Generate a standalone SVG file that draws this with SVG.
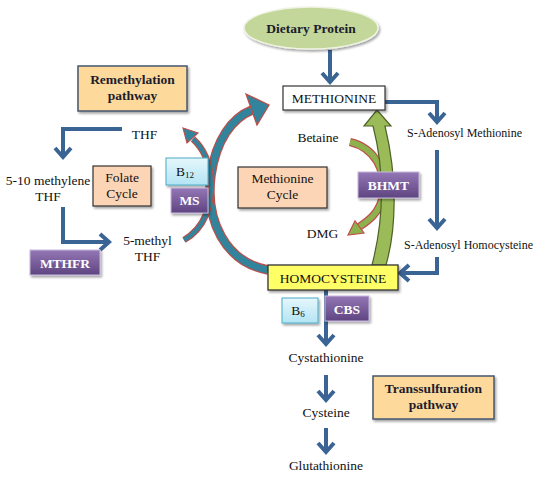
<svg xmlns="http://www.w3.org/2000/svg" width="539" height="477" viewBox="0 0 539 477">
<defs>
<style>
text{font-family:"Liberation Serif","Times New Roman",serif;fill:#111;}
.t{font-size:13.5px;}
.s{font-size:12px;}
.b{font-size:13.5px;font-weight:bold;fill:#1c1c2c;}
.w{font-size:13.5px;font-weight:bold;fill:#fff;}
.conn{fill:none;stroke:#3a6494;stroke-width:4;}
.purple{fill:url(#pg);stroke:#c7b8dc;stroke-width:1;}
.cyan{fill:url(#cg);stroke:#4bacc6;stroke-width:1;}
.peach{fill:#fbd5b5;stroke:#333;stroke-width:1.2;}
.pathbox{fill:#fdd99b;stroke:#46566e;stroke-width:1.5;}
</style>
<linearGradient id="pg" x1="0" y1="0" x2="0" y2="1">
<stop offset="0" stop-color="#9477b6"/>
<stop offset="1" stop-color="#5e4580"/>
</linearGradient>
<linearGradient id="cg" x1="0" y1="0" x2="0" y2="1">
<stop offset="0" stop-color="#e6f7fc"/>
<stop offset="1" stop-color="#b3e4f3"/>
</linearGradient>
<filter id="sh" x="-20%" y="-20%" width="140%" height="150%">
<feDropShadow dx="1.5" dy="2" stdDeviation="1" flood-color="#000" flood-opacity="0.35"/>
</filter>
<marker id="ah" markerUnits="userSpaceOnUse" markerWidth="22" markerHeight="22" viewBox="0 0 22 22" refX="15" refY="11" orient="auto">
<path d="M6,3 L15,11 L6,19" fill="none" stroke="#3a6494" stroke-width="4"/>
</marker>
</defs>

<g id="connectors">
<path class="conn" d="M330,50 V82" marker-end="url(#ah)"/>
<path class="conn" d="M385,102 H437 V122" marker-end="url(#ah)"/>
<path class="conn" d="M437,150 V228" marker-end="url(#ah)"/>
<path class="conn" d="M437,257 V273 H400" marker-end="url(#ah)"/>
<path class="conn" d="M122,129 H63 V157" marker-end="url(#ah)"/>
<path class="conn" d="M63,207 V242 H109" marker-end="url(#ah)"/>
<path class="conn" d="M326,290 V344" marker-end="url(#ah)"/>
<path class="conn" d="M326,375 V400" marker-end="url(#ah)"/>
<path class="conn" d="M326,428 V452" marker-end="url(#ah)"/>

<g id="teal-big">
<path d="M268,270 C225,262 205,220 211,175 C216,140 232,118 252,110" fill="none" stroke="#b8504c" stroke-width="9.5"/>
<path d="M268,270 C225,262 205,220 211,175 C216,140 232,118 252,110" fill="none" stroke="#31849b" stroke-width="7"/>
<polygon points="246,94 269,105 257,125" fill="#31849b" stroke="#b8504c" stroke-width="1.3"/>
</g>
<g id="teal-small">
<path d="M184,240 C205,228 212,205 211,182 C210,162 203,148 193,139" fill="none" stroke="#b8504c" stroke-width="6.5"/>
<path d="M184,240 C205,228 212,205 211,182 C210,162 203,148 193,139" fill="none" stroke="#31849b" stroke-width="4"/>
<polygon points="183,128 198,133 187,143" fill="#31849b" stroke="#b8504c" stroke-width="1.2"/>
</g>
<g id="green-curve">
<path d="M350,142 C375,148 386,170 383,195 C380,213 368,221 359,227" fill="none" stroke="#c0504d" stroke-width="8"/>
<path d="M350,142 C375,148 386,170 383,195 C380,213 368,221 359,227" fill="none" stroke="#8db24d" stroke-width="5.5"/>
<polygon points="348,235 355,221 364,233" fill="#8db24d" stroke="#c0504d" stroke-width="1.2"/>
</g>
<path id="green-shaft" d="M372,265 C381,230 387,180 373,126 L364,126 L377,110 L391,126 L385,126 C398,180 396,230 386,265 Z" fill="#9bbb59" stroke="#4f6228" stroke-width="1.2"/>
</g>

<g id="dietary-protein">
<ellipse cx="311" cy="28" rx="67" ry="21" fill="#c4d79b" stroke="#eef3e2" stroke-width="1.5" filter="url(#sh)"/>
<text class="b" x="311" y="33" text-anchor="middle">Dietary Protein</text>
</g>

<g id="methionine">
<rect x="283" y="86" width="102" height="24" fill="#fff" stroke="#333" stroke-width="1.2" filter="url(#sh)"/>
<text class="t" x="334" y="103" text-anchor="middle">METHIONINE</text>
</g>

<g id="remethylation">
<rect class="pathbox" x="78" y="66" width="109" height="45" filter="url(#sh)"/>
<text class="b" x="132.5" y="84" text-anchor="middle">Remethylation</text>
<text class="b" x="132.5" y="100" text-anchor="middle">pathway</text>
</g>

<g id="thf"><text class="t" x="144.5" y="139" text-anchor="middle">THF</text></g>
<g id="betaine"><text class="t" x="318" y="142" text-anchor="middle">Betaine</text></g>
<g id="sam"><text class="s" x="407" y="137">S-Adenosyl Methionine</text></g>

<g id="methylene-thf">
<text class="t" x="48" y="185" text-anchor="middle">5-10 methylene</text>
<text class="t" x="48" y="201" text-anchor="middle">THF</text>
</g>

<g id="folate-cycle">
<rect class="peach" x="93" y="166" width="58" height="40" filter="url(#sh)"/>
<text class="t" x="122" y="182" text-anchor="middle">Folate</text>
<text class="t" x="122" y="198" text-anchor="middle">Cycle</text>
</g>

<g id="b12">
<rect class="cyan" x="166" y="158" width="42" height="27" filter="url(#sh)"/>
<text class="t" x="185" y="176" text-anchor="middle">B<tspan font-size="9" dy="2">12</tspan></text>
</g>
<g id="ms">
<rect class="purple" x="171" y="188" width="37" height="25" filter="url(#sh)"/>
<text class="w" x="189.5" y="205" text-anchor="middle">MS</text>
</g>

<g id="methionine-cycle">
<rect class="peach" x="238" y="167" width="89" height="41" filter="url(#sh)"/>
<text class="t" x="282.5" y="183" text-anchor="middle">Methionine</text>
<text class="t" x="282.5" y="199" text-anchor="middle">Cycle</text>
</g>

<g id="bhmt">
<rect class="purple" x="358" y="172" width="61" height="26" filter="url(#sh)"/>
<text class="w" x="388.5" y="190" text-anchor="middle">BHMT</text>
</g>

<g id="dmg"><text class="t" x="322.5" y="238" text-anchor="middle">DMG</text></g>
<g id="sah"><text class="s" x="404" y="249">S-Adenosyl Homocysteine</text></g>

<g id="methyl-thf">
<text class="t" x="147.5" y="245" text-anchor="middle">5-methyl</text>
<text class="t" x="147.5" y="261" text-anchor="middle">THF</text>
</g>

<g id="mthfr">
<rect class="purple" x="30" y="250" width="70" height="25" filter="url(#sh)"/>
<text class="w" x="65" y="268" text-anchor="middle">MTHFR</text>
</g>

<g id="homocysteine">
<rect x="268" y="265" width="130" height="25" fill="#ffff66" stroke="#333" stroke-width="1.3" filter="url(#sh)"/>
<text class="t" x="333" y="283" text-anchor="middle">HOMOCYSTEINE</text>
</g>

<g id="b6">
<rect class="cyan" x="282" y="298" width="36" height="25" filter="url(#sh)"/>
<text class="t" x="298" y="315" text-anchor="middle">B<tspan font-size="9" dy="2">6</tspan></text>
</g>
<g id="cbs">
<rect class="purple" x="325" y="296" width="44" height="25" filter="url(#sh)"/>
<text class="w" x="347" y="314" text-anchor="middle">CBS</text>
</g>

<g id="cystathionine"><text class="t" x="326" y="362" text-anchor="middle">Cystathionine</text></g>
<g id="cysteine"><text class="t" x="326" y="417" text-anchor="middle">Cysteine</text></g>
<g id="glutathionine"><text class="t" x="326" y="470" text-anchor="middle">Glutathionine</text></g>

<g id="transsulfuration">
<rect class="pathbox" x="373" y="376" width="121" height="43" filter="url(#sh)"/>
<text class="b" x="433.5" y="393" text-anchor="middle">Transsulfuration</text>
<text class="b" x="433.5" y="409" text-anchor="middle">pathway</text>
</g>
</svg>
